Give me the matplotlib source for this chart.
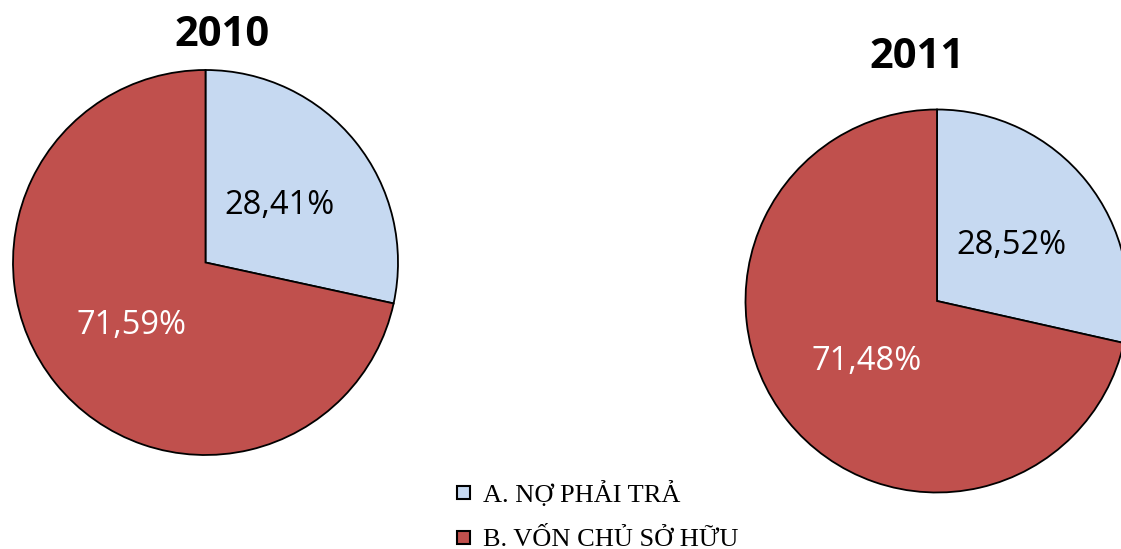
import matplotlib.pyplot as plt
from matplotlib.patches import Rectangle

# Cơ cấu nguồn vốn (%)
years = ["2010", "2011"]
categories = ["A. NỢ PHẢI TRẢ", "B. VỐN CHỦ SỞ HỮU"]
shares_2010 = [28.41, 71.59]
shares_2011 = [28.52, 71.48]
colors = ["#C6D9F1", "#C0504D"]
label_colors = ["black", "white"]

W, H = 1121, 549
fig = plt.figure(figsize=(W / 100, H / 100), dpi=100)
ax = fig.add_axes([0, 0, 1, 1])
ax.set_xlim(0, W)
ax.set_ylim(0, H)
ax.set_aspect("equal")
ax.axis("off")

def draw_pie(values, center, radius, label_pos, title, title_pos):
    ax.pie(values, colors=colors, startangle=90, counterclock=False,
           center=center, radius=radius,
           wedgeprops=dict(edgecolor="black", linewidth=1.3))
    for v, (lx, ly), c in zip(values, label_pos, label_colors):
        ax.text(lx, ly, f"{v:.2f}%".replace(".", ","), color=c, fontsize=23.5,
                family="Open Sans", ha="center", va="center")
    ax.text(title_pos[0], title_pos[1], title, fontsize=30, fontweight="bold",
            family="Open Sans", ha="center", va="center")

draw_pie(shares_2010, (205.5, H - 262.5), 192.5,
         [(279, H - 205), (131, H - 325)], years[0], (222, H - 35))
draw_pie(shares_2011, (937, H - 301), 191.5,
         [(1011, H - 245), (867, H - 362)], years[1], (917, H - 57))

ax.set_xlim(0, W)
ax.set_ylim(0, H)

# legend drawn by hand so the accented rows keep even spacing
for i, (name, col) in enumerate(zip(categories, colors)):
    y = H - (492 + 45 * i)
    ax.add_patch(Rectangle((457, y - 6.5), 13, 13, facecolor=col,
                           edgecolor="black", linewidth=1.5))
    ax.text(483, y, name, family="Liberation Serif", fontsize=19,
            ha="left", va="center_baseline")

fig.savefig("out.png", dpi=100)
